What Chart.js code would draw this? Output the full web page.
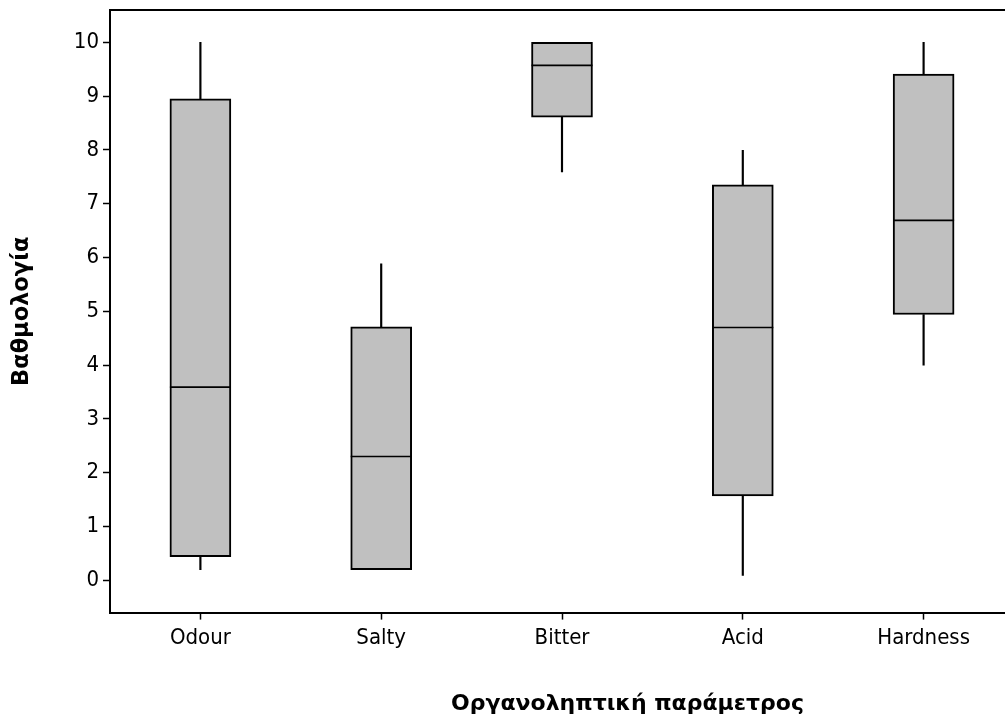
<!DOCTYPE html>
<html>
<head>
<meta charset="utf-8">
<title>Βαθμολογία ανά οργανοληπτική παράμετρο</title>
<script src="https://cdn.jsdelivr.net/npm/chart.js@4.4.1/dist/chart.umd.min.js"></script>
<style>
  html, body { margin: 0; padding: 0; background: #fff; overflow: hidden; }
  #wrap { width: 1005px; height: 722px; overflow: hidden; }
</style>
</head>
<body>
<div id="wrap"><canvas id="chart" width="1255" height="722"></canvas></div>
<script>
// Sensory parameters and their score distributions (five-number summaries)
const categories  = ['Odour', 'Salty', 'Bitter', 'Acid', 'Hardness'];
const whiskerLow  = [0.20, 0.20, 7.59, 0.09, 4.00];
const q1          = [0.44, 0.20, 8.61, 1.57, 4.94];
const median      = [3.59, 2.30, 9.57, 4.70, 6.69];
const q3          = [8.95, 4.71, 10.00, 7.35, 9.41];
const whiskerHigh = [10.00, 5.88, 10.00, 7.99, 10.00];
const yTickValues = [0, 1, 2, 3, 4, 5, 6, 7, 8, 9, 10];

const yTitle = 'Βαθμολογία';
const xTitle = 'Οργανοληπτική παράμετρος';

const FONT = "'DejaVu Sans Condensed', 'DejaVu Sans', sans-serif";
const TITLE_FONT = "'DejaVu Sans', sans-serif";
Chart.defaults.font.family = FONT;
Chart.defaults.color = '#000';

const boxData   = categories.map((_, i) => [q1[i], q3[i]]);
const upperData = categories.map((_, i) => [q3[i], whiskerHigh[i]]);
const lowerData = categories.map((_, i) => [whiskerLow[i], q1[i]]);

// keep the axes from reserving extra room for overhanging tick labels
const noPad = (s) => { s.paddingLeft = 0; s.paddingRight = 0; s.paddingTop = 0; s.paddingBottom = 0; };

new Chart(document.getElementById('chart'), {
  data: {
    labels: categories,
    datasets: [
      {
        type: 'line',
        label: 'median',
        data: median,
        showLine: false,
        pointStyle: 'line',
        pointRadius: 30.5,
        pointHoverRadius: 30.5,
        pointBorderColor: '#000',
        pointBorderWidth: 1.6,
        order: 0
      },
      {
        type: 'bar',
        label: 'box',
        data: boxData,
        backgroundColor: '#c0c0c0',
        borderColor: '#000',
        borderWidth: 2,
        borderSkipped: false,
        barThickness: 61,
        grouped: false,
        order: 1
      },
      {
        type: 'bar',
        label: 'upper whisker',
        data: upperData,
        backgroundColor: '#000',
        borderWidth: 0,
        barThickness: 1.5,
        grouped: false,
        order: 2
      },
      {
        type: 'bar',
        label: 'lower whisker',
        data: lowerData,
        backgroundColor: '#000',
        borderWidth: 0,
        barThickness: 1.5,
        grouped: false,
        order: 2
      }
    ]
  },
  options: {
    responsive: false,
    devicePixelRatio: 1,
    animation: false,
    events: [],
    layout: { autoPadding: false, padding: { left: 0, top: 10, right: 0, bottom: 0 } },
    plugins: {
      legend: { display: false },
      tooltip: { enabled: false },
      title: {
        display: true,
        position: 'bottom',
        align: 'center',
        fullSize: true,
        text: xTitle,
        color: '#000',
        font: { size: 22, weight: 'bold', family: TITLE_FONT },
        padding: { top: 0, bottom: 5 }
      }
    },
    scales: {
      x: {
        type: 'category',
        position: 'bottom',
        offset: true,
        grid: {
          display: true,
          drawOnChartArea: false,
          drawTicks: true,
          tickLength: 7,
          tickWidth: 1.5,
          tickColor: '#000',
          offset: false
        },
        border: { display: true, color: '#000', width: 2 },
        ticks: {
          color: '#000',
          font: { size: 22, family: FONT },
          padding: 5,
          maxRotation: 0,
          autoSkip: false
        },
        afterFit: (s) => { s.height = 78; noPad(s); }
      },
      xTop: {
        type: 'category',
        position: 'top',
        labels: categories,
        offset: true,
        grid: { display: true, drawOnChartArea: false, drawTicks: false },
        border: { display: true, color: '#000', width: 2 },
        ticks: { display: false },
        afterFit: (s) => { s.height = 0; noPad(s); }
      },
      y: {
        type: 'linear',
        position: 'left',
        min: -0.6,
        max: 10.6,
        afterBuildTicks: (s) => { s.ticks = yTickValues.map(v => ({ value: v })); },
        grid: {
          display: true,
          drawOnChartArea: false,
          drawTicks: true,
          tickLength: 7,
          tickWidth: 1.5,
          tickColor: '#000'
        },
        border: { display: true, color: '#000', width: 2 },
        ticks: {
          color: '#000',
          font: { size: 22, family: FONT },
          padding: 4
        },
        title: {
          display: true,
          text: yTitle,
          color: '#000',
          font: { size: 22.5, weight: 'bold', family: TITLE_FONT },
          padding: { top: 9, bottom: 0 }
        },
        afterFit: (s) => { s.width = 110; noPad(s); }
      },
      // empty margin on the right of the plotting frame
      yRight: {
        type: 'linear',
        position: 'right',
        min: -0.6,
        max: 10.6,
        grid: { display: false, drawTicks: false },
        border: { display: false },
        ticks: { display: false },
        afterFit: (s) => { s.width = 241; noPad(s); }
      }
    }
  }
});
</script>
</body>
</html>
